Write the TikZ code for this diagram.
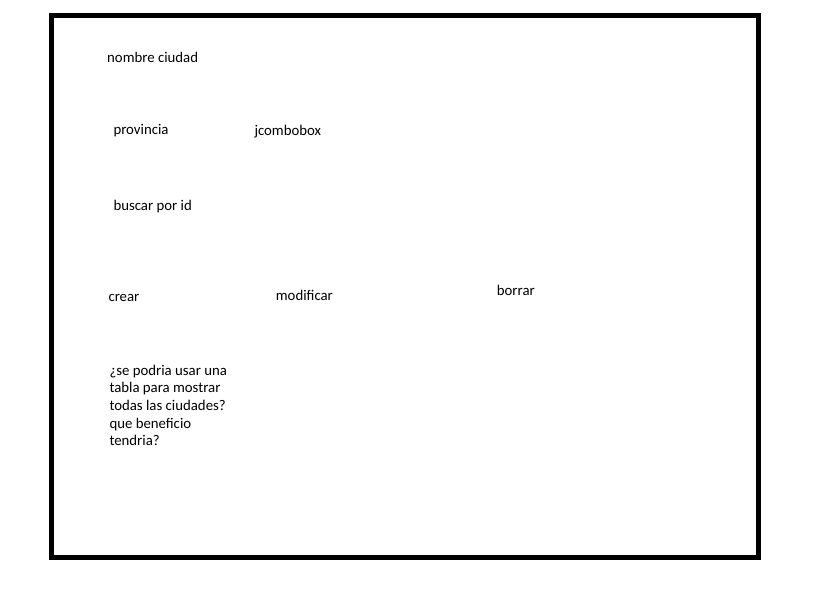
\documentclass[tikz,border=0pt]{standalone}
\usepackage{fontspec}
\setmainfont{Carlito}
\usetikzlibrary{positioning}

\begin{document}
\begin{tikzpicture}[
    x=1pt, y=-1pt,
    every node/.style={font=\fontsize{14.8}{17.7}\selectfont},
    lbl/.style={anchor=base west, inner sep=0pt},
    marco/.style={draw=black, line width=5pt},
]
  \useasboundingbox (0,0) rectangle (814,609);
  % Window frame
  \draw[marco] (51.5,16) rectangle (758,557.5);
  % Form fields
  \node[lbl] (nombre)    at (107,62.3)  {nombre ciudad};
  \node[lbl] (provincia) at (113.3,134.3) {provincia};
  \node[lbl] (combo)     at (254.3,135.5) {jcombobox};
  \node[lbl] (buscar)    at (113.3,211) {buscar por id};
  % Buttons
  \node[lbl] (crear)     at (108.3,301.7) {crear};
  \node[lbl] (modificar) at (275.7,300.7) {modificar};
  \node[lbl] (borrar)    at (496.7,296)   {borrar};
  % Note (base = last line)
  \node[lbl, align=left] (nota) at (109.3,445.8) {¿se podria usar una\\tabla para mostrar\\todas las ciudades?\\que beneficio\\tendria?};
\end{tikzpicture}
\end{document}
